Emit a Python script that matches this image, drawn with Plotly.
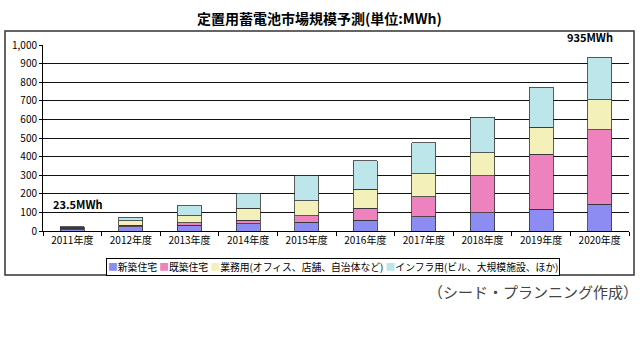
import plotly.graph_objects as go

categories = ["2011年度", "2012年度", "2013年度", "2014年度", "2015年度",
              "2016年度", "2017年度", "2018年度", "2019年度", "2020年度"]
new_homes = [6, 23, 32, 39, 47, 57, 77, 97, 117, 145]
existing_homes = [9, 9, 13, 18, 35, 65, 107, 199, 295, 400]
business = [5, 23, 37, 65, 81, 102, 124, 125, 145, 160]
infra = [3.5, 19, 54, 81, 133, 154, 167, 190, 215, 230]

series_names = ["新築住宅", "既築住宅", "業務用(オフィス、店舗、自治体など)", "インフラ用(ビル、大規模施設、ほか)"]
series_values = [new_homes, existing_homes, business, infra]
colors = ["#8C8CF2", "#EE82BE", "#F4F0BA", "#BDE6EA"]

FONT = "Noto Sans CJK JP"

fig = go.Figure()
for name, vals, col in zip(series_names, series_values, colors):
    fig.add_trace(go.Bar(
        x=categories, y=vals, name=name,
        marker=dict(color=col, line=dict(color="#333333", width=0.8)),
    ))

fig.update_layout(
    barmode="stack",
    bargap=0.59,
    width=640, height=360,
    margin=dict(l=43, r=11, t=45, b=129, autoexpand=False),
    paper_bgcolor="white", plot_bgcolor="white",
    font=dict(family=FONT, size=10, color="black"),
    showlegend=False,
    xaxis=dict(
        showline=True, linecolor="black", linewidth=1,
        ticks="outside", tickson="boundaries", ticklen=4, tickcolor="black",
        tickfont=dict(size=10, family=FONT),
        showgrid=False, automargin=False,
    ),
    yaxis=dict(
        range=[0, 1000], dtick=100, tickformat=",",
        showline=True, linecolor="black", linewidth=1,
        ticks="outside", ticklen=3, tickcolor="black",
        showgrid=True, gridcolor="#111111", gridwidth=1,
        tickfont=dict(size=10, family=FONT),
        zeroline=False, automargin=False,
    ),
)

# outer frame
fig.add_shape(type="rect", xref="paper", yref="paper",
              x0=(5 - 43) / 586, x1=(634 - 43) / 586,
              y0=(231 - 275) / 186, y1=(231 - 31) / 186,
              line=dict(color="#333333", width=1.5), fillcolor="rgba(0,0,0,0)",
              layer="above")

# compact legend built from the series names and colours
legend_html = " ".join(
    f'<span style="color:{c}">■</span>{n}' for n, c in zip(series_names, colors)
)
fig.add_annotation(text=legend_html, xref="paper", yref="paper",
                   x=0.495, y=(231 - 267) / 186, xanchor="center", yanchor="middle",
                   showarrow=False, bordercolor="black", borderwidth=1, borderpad=1,
                   bgcolor="white", font=dict(size=9.8, family=FONT, color="black"))

# title
fig.add_annotation(text="<b>定置用蓄電池市場規模予測(単位:MWh)</b>",
                   xref="paper", yref="paper", x=0.472, y=(231 - 18) / 186,
                   xanchor="center", yanchor="middle", showarrow=False,
                   font=dict(size=14, family=FONT))

# value labels
fig.add_annotation(text="<b>23.5MWh</b>", x=categories[0], y=sum(v[0] for v in series_values),
                   yshift=23, xshift=6, showarrow=False, font=dict(size=11, family=FONT))
fig.add_annotation(text="<b>935MWh</b>", x=categories[-1], y=sum(v[-1] for v in series_values),
                   yshift=20, xshift=-10, showarrow=False, font=dict(size=11, family=FONT))

# footnote
fig.add_annotation(text="（シード・プランニング作成）", xref="paper", yref="paper",
                   x=(631 - 43) / 586, y=(231 - 291) / 186, xanchor="right", yanchor="middle",
                   xshift=9, showarrow=False, font=dict(size=15, family=FONT, color="#444444"))

fig.write_html("out.html", post_script="document.body.style.margin='0';",
               config={"displayModeBar": False})
